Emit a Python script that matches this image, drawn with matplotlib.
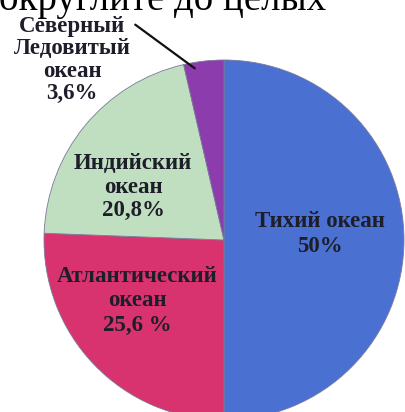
import matplotlib
matplotlib.use('Agg')
import matplotlib.pyplot as plt

# Площадь Мирового океана по океанам, %
oceans = ['Тихий океан', 'Атлантический\nокеан', 'Индийский\nокеан', 'Северный\nЛедовитый\nокеан']
shares = [50, 25.6, 20.8, 3.6]
pct_sep = ['', ' ', '', '']
colors = ['#4a70d2', '#d8336f', '#bfdfc0', '#8c3cac']

title = 'округлите до целых'

W, H = 405, 412


def pct_text(value, sep):
    """
    Подпись процента с запятой вместо точки
    """
    return f'{value:g}'.replace('.', ',') + sep + '%'


def draw_pie(ax):
    """
    Круговая диаграмма, Тихий океан справа, по часовой стрелке
    """
    ax.pie(shares, colors=colors, startangle=90, counterclock=False,
           center=(224, H - 240), radius=180, frame=True,
           wedgeprops={'linewidth': 0.6, 'edgecolor': '#7a7a9a'})


def draw_labels(ax):
    """
    Подписи секторов
    """
    font = {'family': 'Liberation Serif', 'weight': 'bold', 'color': '#1e1e2a'}
    # координаты центров подписей в пикселях (от верхнего края)
    spots = [(320, 234), (137, 301), (133, 187), (72, 60)]
    linespacing = [1.22, 1.2, 1.15, 1.1]
    for name, v, sep, (x, y), ls in zip(oceans, shares, pct_sep, spots, linespacing):
        txt = name + '\n' + pct_text(v, sep)
        ax.text(x, H - y, txt, ha='center', va='center', fontsize=16.5,
                linespacing=ls, multialignment='center', **font)

    # линия к узкому сектору Северного Ледовитого океана
    ax.annotate('', xy=(197, H - 70), xytext=(133, H - 23),
                arrowprops={'arrowstyle': '-', 'color': '#111111', 'linewidth': 1.6})


def main():
    fig = plt.figure(figsize=(W / 100, H / 100), dpi=100)
    ax = fig.add_axes([0, 0, 1, 1])

    draw_pie(ax)
    draw_labels(ax)

    # верхняя строка задания, обрезанная краем
    ax.text(-1, H - 10, title, ha='left', va='baseline', fontsize=28,
            family='Liberation Serif', color='black')

    ax.set_xlim(0, W)
    ax.set_ylim(0, H)
    ax.set_aspect('equal')
    ax.axis('off')

    fig.savefig('out.png', dpi=100)


if __name__ == '__main__':
    main()
